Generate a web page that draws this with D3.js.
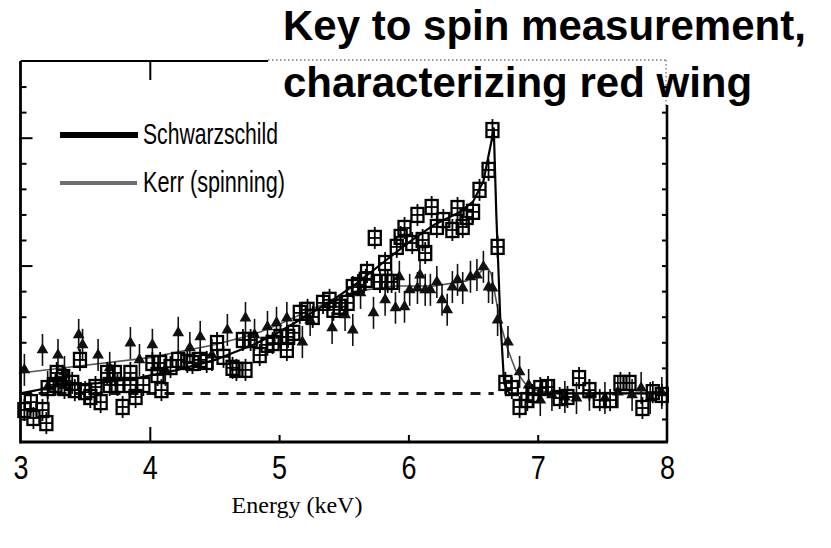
<!DOCTYPE html>
<html><head><meta charset="utf-8">
<script src="https://cdn.jsdelivr.net/npm/d3@7"></script>
<style>body{margin:0;background:#fff;}</style>
</head><body>
<svg id="chart" width="831" height="548"></svg>
<script>
// ---------- data ----------
const titleLines = ["Key to spin measurement,", "characterizing red wing"];
const legendLabels = ["Schwarzschild", "Kerr (spinning)"];
const xAxisLabel = "Energy (keV)";
const xTickValues = [3, 4, 5, 6, 7, 8];
const yMinorTicks = [0.9, 1.1, 1.2, 1.3, 1.4, 1.6, 1.7, 1.8, 1.9, 2.1, 2.2];
const yMajorTicks = [1.0, 1.5, 2.0];
const continuumLevel = 1.0;

// Schwarzschild model line
const schwModelE = [3.0, 3.3, 3.6, 3.9, 4.2, 4.5, 4.8, 5.0, 5.2, 5.4, 5.6, 5.8, 6.0, 6.2, 6.4, 6.5, 6.58, 6.64, 6.66, 6.68, 6.71, 6.74, 6.78, 8.0];
const schwModelV = [1.00, 1.03, 1.04, 1.06, 1.09, 1.13, 1.19, 1.24, 1.30, 1.36, 1.43, 1.51, 1.59, 1.66, 1.71, 1.75, 1.83, 1.98, 2.04, 1.70, 1.30, 1.04, 1.00, 1.00];

// Kerr model line
const kerrModelE = [3.0, 3.5, 4.0, 4.5, 4.8, 5.0, 5.3, 5.6, 5.9, 6.2, 6.45, 6.55, 6.6, 6.64, 6.68, 6.72, 6.77, 6.83, 6.9, 7.0, 7.2, 8.0];
const kerrModelV = [1.08, 1.11, 1.14, 1.19, 1.23, 1.27, 1.34, 1.40, 1.42, 1.42, 1.44, 1.47, 1.50, 1.47, 1.36, 1.26, 1.17, 1.09, 1.04, 1.01, 1.00, 1.00];

// simulated Schwarzschild data (squares)
const schwDataE = [3.03, 3.08, 3.10, 3.17, 3.20, 3.21, 3.27, 3.28, 3.33, 3.34, 3.40, 3.42, 3.46, 3.50, 3.54, 3.58, 3.62, 3.67, 3.69, 3.73, 3.75, 3.79, 3.85, 3.85, 3.89, 3.95,
  4.02, 4.06, 4.08, 4.09, 4.16, 4.22, 4.29, 4.33, 4.39, 4.44, 4.52, 4.57, 4.64, 4.67, 4.74, 4.72, 4.78, 4.85, 4.91, 4.95,
  5.01, 5.07, 5.06, 5.11, 5.16, 5.22, 5.26, 5.34, 5.39, 5.42, 5.47, 5.53, 5.57, 5.61, 5.67, 5.68, 5.78, 5.84, 5.87, 5.74, 5.82, 5.91, 5.94, 5.97,
  6.03, 6.07, 6.11, 6.13, 6.18, 6.22, 6.27, 6.34, 6.38, 6.42, 6.45, 6.50, 6.55, 6.62, 6.65, 6.69, 6.75, 6.80, 6.86, 6.92, 6.96,
  7.02, 7.08, 7.17, 7.23, 7.32, 7.40, 7.48, 7.56, 7.64, 7.71, 7.81, 7.89, 7.96];
const schwDataV = [0.935, 0.966, 0.904, 0.935, 0.884, 1.021, 1.033, 1.080, 1.064, 1.021, 1.041, 1.013, 1.131, 1.005, 0.986, 1.025, 0.966, 1.080, 1.033, 1.080, 1.033, 0.947, 1.080, 1.033, 0.986, 1.033,
  1.119, 1.072, 1.119, 1.013, 1.103, 1.131, 1.123, 1.119, 1.131, 1.123, 1.197, 1.143, 1.100, 1.092, 1.092, 1.209, 1.209, 1.150, 1.190, 1.197,
  1.221, 1.221, 1.170, 1.237, 1.315, 1.327, 1.299, 1.354, 1.366, 1.327, 1.339, 1.354, 1.416, 1.424, 1.444, 1.475, 1.436, 1.436, 1.436, 1.608, 1.510, 1.573, 1.612, 1.647,
  1.588, 1.698, 1.600, 1.549, 1.729, 1.651, 1.678, 1.639, 1.725, 1.651, 1.690, 1.710, 1.796, 1.874, 2.030, 1.573, 1.041, 1.021, 0.947, 0.974, 0.994,
  1.021, 1.025, 0.982, 0.986, 1.060, 1.013, 0.974, 0.974, 1.041, 1.041, 0.943, 1.005, 0.994];

// simulated Kerr data (triangles)
const kerrDataE = [3.03, 3.17, 3.21, 3.29, 3.34, 3.45, 3.48, 3.60, 3.69, 3.85, 3.92, 4.02, 4.12, 4.22, 4.31, 4.39, 4.48, 4.60, 4.74, 4.81, 4.91, 4.98,
  5.06, 5.18, 5.24, 5.41, 5.51, 5.57, 5.63, 5.73, 5.82, 5.90, 5.93, 5.97, 6.01, 6.07, 6.09, 6.13, 6.17, 6.22, 6.26, 6.30, 6.34, 6.38, 6.42, 6.48, 6.53, 6.58, 6.62, 6.65, 6.69,
  6.77, 6.86, 6.93, 7.02, 7.11, 7.21, 7.30, 7.40, 7.52, 7.62, 7.73, 7.80, 7.87, 7.96];
const kerrDataV = [1.092, 1.170, 1.025, 1.150, 1.084, 1.229, 1.190, 1.150, 1.100, 1.197, 1.131, 1.190, 1.092, 1.237, 1.178, 1.221, 1.150, 1.248, 1.295, 1.229, 1.260, 1.276,
  1.295, 1.201, 1.287, 1.256, 1.307, 1.248, 1.393, 1.315, 1.366, 1.335, 1.456, 1.339, 1.405, 1.412, 1.463, 1.405, 1.405, 1.436, 1.366, 1.327, 1.416, 1.444, 1.412, 1.456, 1.463, 1.495, 1.416, 1.412, 1.287,
  1.201, 1.084, 1.033, 0.974, 0.994, 0.986, 0.982, 0.994, 0.982, 1.005, 0.994, 1.021, 0.982, 1.002];

// ---------- drawing ----------
const svg = d3.select("#chart");
svg.append("rect").attr("width", 831).attr("height", 548).attr("fill", "#fff");

const X0 = 20.5, X1 = 667, Y0 = 442, Y1 = 61;
const x = d3.scaleLinear().domain([3, 8]).range([X0, X1]);
const y = d3.scaleLinear().domain([0.81, 2.30]).range([Y0, Y1]);

const plot = svg.append("g");

// continuum dashed line
plot.append("line")
  .attr("x1", x(3.0)).attr("x2", x(6.66))
  .attr("y1", y(continuumLevel)).attr("y2", y(continuumLevel))
  .attr("stroke", "#1a1a1a").attr("stroke-width", 3).attr("stroke-dasharray", "10,8");

// model lines
const line = d3.line().x(d => x(d[0])).y(d => y(d[1]));
plot.append("path").datum(kerrModelE.map((e, i) => [e, kerrModelV[i]]))
  .attr("d", line).attr("fill", "none").attr("stroke", "#555").attr("stroke-width", 1.6);
plot.append("path").datum(schwModelE.map((e, i) => [e, schwModelV[i]]))
  .attr("d", line).attr("fill", "none").attr("stroke", "#000").attr("stroke-width", 2.2);

// triangles (Kerr data)
const tri = plot.append("g").selectAll("g").data(kerrDataE.map((e, i) => [e, kerrDataV[i]])).join("g")
  .attr("transform", d => `translate(${x(d[0])},${y(d[1])})`);
tri.append("line").attr("y1", -16).attr("y2", 16).attr("stroke", "#111").attr("stroke-width", 1.6);
tri.append("path").attr("d", d3.symbol(d3.symbolTriangle, 60)).attr("fill", "#111");

// squares (Schwarzschild data)
const sq = plot.append("g").selectAll("g").data(schwDataE.map((e, i) => [e, schwDataV[i]])).join("g")
  .attr("transform", d => `translate(${x(d[0])},${y(d[1])})`);
sq.append("line").attr("y1", -11).attr("y2", 11).attr("stroke", "#000").attr("stroke-width", 1.8);
sq.append("line").attr("x1", -6).attr("x2", 6).attr("stroke", "#000").attr("stroke-width", 1.8);
sq.append("rect").attr("x", -6).attr("y", -7).attr("width", 12).attr("height", 14)
  .attr("fill", "none").attr("stroke", "#000").attr("stroke-width", 2.3);

// ---------- axes (ticks) ----------
function clean(g) { g.select(".domain").remove(); g.selectAll(".tick line").attr("stroke", "#000").attr("stroke-width", 2); }
svg.append("g").attr("transform", `translate(${X0},0)`)
  .call(d3.axisLeft(y).tickValues(yMinorTicks).tickSize(-6).tickFormat("")).call(clean);
svg.append("g").attr("transform", `translate(${X0},0)`)
  .call(d3.axisLeft(y).tickValues(yMajorTicks).tickSize(-12).tickFormat("")).call(clean);
svg.append("g").attr("transform", `translate(${X1},0)`)
  .call(d3.axisRight(y).tickValues(yMinorTicks.concat(yMajorTicks)).tickSize(-5).tickFormat("")).call(clean);
svg.append("g").attr("transform", `translate(0,${Y0})`)
  .call(d3.axisBottom(x).tickValues([5, 6, 7]).tickSize(-7).tickFormat("")).call(clean);
svg.append("g").attr("transform", `translate(0,${Y0})`)
  .call(d3.axisBottom(x).tickValues([4]).tickSize(-15).tickFormat("")).call(clean);
svg.append("g").attr("transform", `translate(0,${Y1})`)
  .call(d3.axisTop(x).tickValues([4]).tickSize(-19).tickFormat("")).call(clean);

// tick labels
const xl = svg.append("g").attr("transform", `translate(0,${Y0})`)
  .call(d3.axisBottom(x).tickValues(xTickValues).tickSize(0).tickPadding(0).tickFormat(d3.format("d")));
xl.select(".domain").remove();
xl.selectAll("text")
  .attr("y", 37).attr("dy", 0)
  .attr("font-family", "'Liberation Sans Narrow','Arial Narrow','Liberation Sans',sans-serif")
  .attr("font-size", 34).attr("fill", "#000")
  .attr("textLength", 15).attr("lengthAdjust", "spacingAndGlyphs");

// frame
const frame = svg.append("g").attr("stroke", "#000").attr("fill", "none");
frame.append("line").attr("x1", X0).attr("x2", X0).attr("y1", Y1).attr("y2", Y0 + 1.5).attr("stroke-width", 2.8);
frame.append("line").attr("x1", X0).attr("x2", X1 + 1).attr("y1", Y0).attr("y2", Y0).attr("stroke-width", 3);
frame.append("line").attr("x1", X1).attr("x2", X1).attr("y1", 105).attr("y2", Y0).attr("stroke-width", 2.6);
frame.append("line").attr("x1", X0).attr("x2", 268).attr("y1", Y1).attr("y2", Y1).attr("stroke-width", 2.2);
frame.append("line").attr("x1", 268).attr("x2", X1).attr("y1", Y1 - 1).attr("y2", Y1 - 1)
  .attr("stroke", "#777").attr("stroke-width", 1.3).attr("stroke-dasharray", "1.5,2.5");
frame.append("line").attr("x1", X1 - 1).attr("x2", X1 - 1).attr("y1", Y1 - 1).attr("y2", 105)
  .attr("stroke", "#777").attr("stroke-width", 1.3).attr("stroke-dasharray", "1.5,2.5");

// legend
const lg = svg.append("g");
lg.append("line").attr("x1", 60).attr("x2", 138).attr("y1", 135).attr("y2", 135).attr("stroke", "#000").attr("stroke-width", 6);
lg.append("line").attr("x1", 60).attr("x2", 137).attr("y1", 183).attr("y2", 183).attr("stroke", "#6e6e6e").attr("stroke-width", 4);
lg.append("text").attr("x", 143).attr("y", 144).text(legendLabels[0])
  .attr("font-family", "'Liberation Sans Narrow','Arial Narrow','Liberation Sans',sans-serif").attr("font-size", 29)
  .attr("textLength", 135).attr("lengthAdjust", "spacingAndGlyphs");
lg.append("text").attr("x", 143).attr("y", 192).text(legendLabels[1])
  .attr("font-family", "'Liberation Sans Narrow','Arial Narrow','Liberation Sans',sans-serif").attr("font-size", 29)
  .attr("textLength", 142).attr("lengthAdjust", "spacingAndGlyphs");

// title
svg.append("g").selectAll("text").data(titleLines).join("text")
  .attr("x", 283).attr("y", (d, i) => 40 + i * 57)
  .attr("font-family", "'Liberation Sans',Arial,sans-serif").attr("font-weight", "bold")
  .attr("font-size", 42).attr("fill", "#000").text(d => d);

// x axis title
svg.append("text").attr("x", 297).attr("y", 513).attr("text-anchor", "middle")
  .attr("font-family", "'Liberation Serif','Times New Roman',serif").attr("font-size", 24)
  .text(xAxisLabel);
</script>
</body></html>
